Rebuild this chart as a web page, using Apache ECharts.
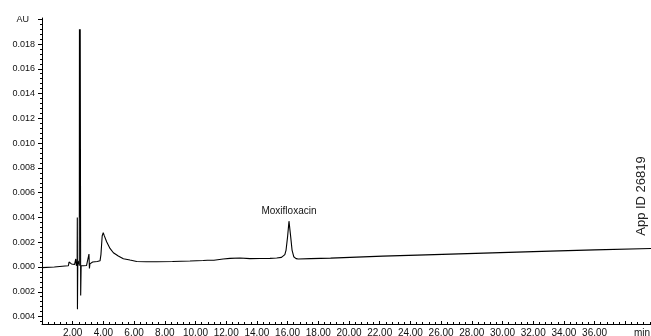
<!DOCTYPE html>
<html>
<head>
<meta charset="utf-8">
<script src="https://cdn.jsdelivr.net/npm/echarts@6/dist/echarts.min.js"></script>
<style>
  html, body { margin: 0; padding: 0; background: #fff; }
  #chart { width: 651px; height: 336px; }
</style>
</head>
<body>
<div id="chart"></div>
<script>
// Retention time (min) and detector response (AU) of the chromatogram trace
const retentionTimes = [
  0.00, 0.80, 1.50, 1.72, 1.76, 1.82, 1.86, 1.92, 1.98, 2.04, 2.12, 2.20, 2.24,
  2.29, 2.30, 2.31, 2.33, 2.40, 2.43, 2.44, 2.47, 2.49, 2.52, 2.55, 2.70, 2.90,
  3.02, 3.06, 3.09, 3.12, 3.30, 3.60, 3.78, 3.84, 3.92, 3.99, 4.05, 4.21, 4.43,
  4.65, 4.97, 5.30, 5.73, 6.17, 6.80, 7.47, 8.50, 9.64, 10.50, 10.78, 10.84,
  10.92, 11.20, 11.80, 12.25, 12.90, 13.55, 14.20, 14.85, 15.29, 15.60, 15.72,
  15.82, 15.90, 16.00, 16.09, 16.20, 16.29, 16.40, 16.55, 16.70, 17.50, 18.80,
  20.50, 22.20, 25.00, 27.70, 30.40, 33.10, 36.00, 39.70, 40.00
];
const absorbance = [
  -0.00005, 0.00000, 0.00008, 0.00010, 0.00040, 0.00030, 0.00042, 0.00025, 0.00030, 0.00018, 0.00020, 0.00065, 0.00010,
  0.00040, 0.00400, -0.00340, 0.00020, 0.00050, 0.00010, 0.01920, 0.00400, 0.01920, -0.00230, 0.00010, 0.00010, 0.00012,
  0.00010, 0.00105, -0.00012, 0.00025, 0.00040, 0.00045, 0.00050, 0.00100, 0.00250, 0.00277, 0.00255, 0.00204, 0.00150,
  0.00115, 0.00089, 0.00067, 0.00056, 0.00045, 0.00043, 0.00043, 0.00045, 0.00048, 0.00053, 0.00055, 0.00066,
  0.00054, 0.00055, 0.00065, 0.00070, 0.00073, 0.00068, 0.00069, 0.00070, 0.00073, 0.00078, 0.00083,
  0.00100, 0.00137, 0.00245, 0.00370, 0.00245, 0.00137, 0.00083, 0.00068, 0.00065, 0.00068, 0.00072,
  0.00080, 0.00088, 0.00098, 0.00108, 0.00118, 0.00128, 0.00138, 0.00150, 0.00151
];

// Axis ticks
const yTickValues = [-0.004, -0.002, 0.000, 0.002, 0.004, 0.006, 0.008, 0.010,
                     0.012, 0.014, 0.016, 0.018, 0.020];
const yUnitLabel = 'AU';
const xUnitLabel = 'min';

// Peak annotation
const peakName = 'Moxifloxacin';
const peakTime = 16.09;
const peakHeight = 0.00370;

const appIdText = 'App ID 26819';

// Minor y ticks: five subdivisions between neighbouring major ticks
const yMinorTickValues = [];
for (let i = 0; i < yTickValues.length - 1; i++) {
  const a = yTickValues[i], b = yTickValues[i + 1];
  for (let k = 1; k < 5; k++) yMinorTickValues.push(+(a + (b - a) * k / 5).toFixed(5));
}
yMinorTickValues.unshift(-0.0044);

const FONT = "'Liberation Sans', Arial, sans-serif";
const Y_MIN = -0.0046, Y_MAX = 0.0201;

const chart = echarts.init(document.getElementById('chart'), null, { renderer: 'canvas' });

chart.setOption({
  animation: false,
  backgroundColor: '#ffffff',
  grid: { left: 42, top: 18, right: -5, bottom: 12, outerBoundsMode: 'none' },
  xAxis: {
    type: 'value',
    min: 0,
    max: 40,
    interval: 2,
    axisLine: { show: true, onZero: false, lineStyle: { color: '#000', width: 1 } },
    axisTick: { show: true, inside: true, length: 3, lineStyle: { color: '#000' } },
    minorTick: { show: true, splitNumber: 5, length: 2, lineStyle: { color: '#000' } },
    splitLine: { show: false },
    minorSplitLine: { show: false },
    axisLabel: {
      show: true,
      margin: 4,
      fontFamily: FONT,
      fontSize: 10,
      color: '#111',
      alignMaxLabel: 'right',
      formatter: function (v) {
        if (v === 0 || v === 38) return '';
        if (v === 40) return '{u|' + xUnitLabel + '}';
        return v.toFixed(2);
      },
      rich: { u: { fontFamily: FONT, fontSize: 10, color: '#111', padding: [0, 6, 0, 0] } }
    }
  },
  yAxis: [
    {
      type: 'value',
      min: Y_MIN,
      max: Y_MAX,
      axisLine: { show: true, lineStyle: { color: '#000', width: 1 } },
      axisTick: { show: true, length: 4, customValues: yTickValues, lineStyle: { color: '#000' } },
      splitLine: { show: false },
      axisLabel: {
        show: true,
        customValues: yTickValues,
        margin: 7,
        fontFamily: FONT,
        fontSize: 9,
        color: '#111',
        formatter: function (v) {
          if (Math.abs(v - 0.020) < 1e-9) return '{u|' + yUnitLabel + '}';
          return Math.abs(v).toFixed(3);
        },
        rich: { u: { fontFamily: FONT, fontSize: 9, color: '#111', padding: [0, 6, 0, 0] } }
      }
    },
    {
      type: 'value',
      min: Y_MIN,
      max: Y_MAX,
      position: 'left',
      axisLine: { show: false },
      axisTick: { show: true, length: 2, customValues: yMinorTickValues, lineStyle: { color: '#000' } },
      axisLabel: { show: false },
      splitLine: { show: false }
    }
  ],
  graphic: [
    {
      type: 'text',
      x: 641,
      y: 196,
      rotation: Math.PI / 2,
      style: {
        text: appIdText,
        font: '13px ' + FONT,
        fill: '#222',
        textAlign: 'center',
        textVerticalAlign: 'middle'
      }
    }
  ],
  series: [
    {
      type: 'line',
      yAxisIndex: 0,
      data: retentionTimes.map((t, i) => [t, absorbance[i]]),
      showSymbol: false,
      symbol: 'none',
      smooth: false,
      clip: true,
      lineStyle: { color: '#000', width: 1.1 },
      markPoint: {
        symbol: 'circle',
        symbolSize: 0,
        silent: true,
        data: [{ coord: [peakTime, peakHeight], value: peakName }],
        label: {
          show: true,
          position: 'top',
          distance: 5,
          formatter: peakName,
          fontFamily: FONT,
          fontSize: 10,
          color: '#111'
        }
      }
    },
    {
      type: 'line',
      yAxisIndex: 1,
      data: [],
      showSymbol: false
    }
  ]
});
</script>
</body>
</html>
